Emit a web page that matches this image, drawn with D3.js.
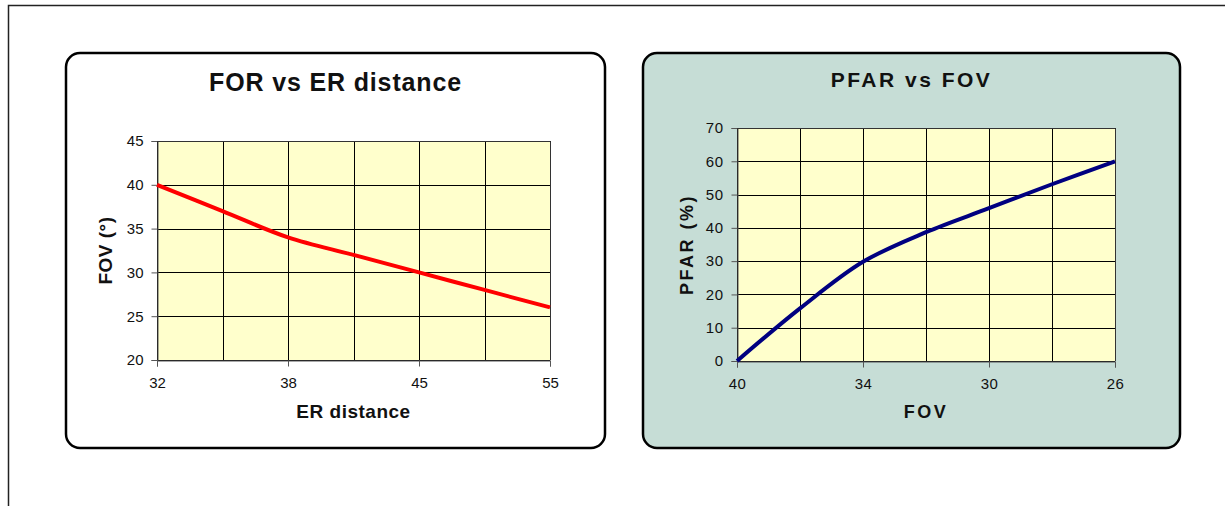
<!DOCTYPE html>
<html>
<head>
<meta charset="utf-8">
<script src="https://cdn.jsdelivr.net/npm/d3@7"></script>
<style>
  html, body { margin: 0; padding: 0; background: #fff; }
  svg { display: block; font-family: "Liberation Sans", Arial, sans-serif; }
</style>
</head>
<body>
<svg id="chart" width="1225" height="506"></svg>
<script>
// ---- Data ----
const erCategories = ["32", "35", "38", "41", "45", "50", "55"];
const fovValues = [40, 37, 34, 32, 30, 28, 26];
const fovYTicks = [20, 25, 30, 35, 40, 45];

const fovCategories = ["40", "37", "34", "32", "30", "28", "26"];
const pfarValues = [0, 15.8, 29.8, 38.7, 45.9, 53.1, 60];
const pfarYTicks = [0, 10, 20, 30, 40, 50, 60, 70];

const svg = d3.select("#chart");

// outer frame
svg.append("path")
  .attr("d", "M8.5,506 L8.5,5.5 L1225,5.5")
  .attr("fill", "none").attr("stroke", "#222").attr("stroke-width", 1.5);

function drawPanel(cfg) {
  const g = svg.append("g");
  g.append("rect")
    .attr("x", cfg.box[0]).attr("y", cfg.box[1])
    .attr("width", cfg.box[2]).attr("height", cfg.box[3])
    .attr("rx", 14).attr("ry", 14)
    .attr("fill", cfg.bg).attr("stroke", "#000").attr("stroke-width", 2.5);

  g.append("text")
    .attr("x", cfg.titleX).attr("y", cfg.titleY)
    .attr("text-anchor", "middle")
    .attr("font-size", cfg.titleSize).attr("font-weight", "bold")
    .attr("letter-spacing", cfg.titleSpacing)
    .attr("fill", "#111")
    .text(cfg.title);

  const x = d3.scalePoint().domain(cfg.cats).range([cfg.plot.left, cfg.plot.right]);
  const y = d3.scaleLinear().domain(cfg.yDomain).range([cfg.plot.bottom, cfg.plot.top]);

  // plot area
  g.append("rect")
    .attr("x", cfg.plot.left).attr("y", cfg.plot.top)
    .attr("width", cfg.plot.right - cfg.plot.left)
    .attr("height", cfg.plot.bottom - cfg.plot.top)
    .attr("fill", "#FFFFCC");

  // horizontal gridlines
  g.selectAll(".hg").data(cfg.yTicks).enter().append("line")
    .attr("x1", cfg.plot.left).attr("x2", cfg.plot.right)
    .attr("y1", d => Math.round(y(d)) + 0.5).attr("y2", d => Math.round(y(d)) + 0.5)
    .attr("stroke", "#000").attr("stroke-width", 1);
  // vertical gridlines
  g.selectAll(".vg").data(cfg.cats).enter().append("line")
    .attr("x1", d => Math.round(x(d)) + 0.5).attr("x2", d => Math.round(x(d)) + 0.5)
    .attr("y1", cfg.plot.top).attr("y2", cfg.plot.bottom)
    .attr("stroke", "#000").attr("stroke-width", 1);

  // y axis
  const yAxis = d3.axisLeft(y).tickValues(cfg.yTicks).tickSize(6).tickPadding(8);
  const ya = g.append("g").attr("transform", `translate(${Math.round(cfg.plot.left) + 0.5},0)`).call(yAxis);
  ya.select(".domain").attr("stroke", "#555");
  ya.selectAll(".tick line").attr("stroke", "#555");
  ya.selectAll(".tick text").attr("font-size", 15).attr("fill", "#111")
    .attr("font-family", "'Liberation Sans', Arial, sans-serif")
    .attr("letter-spacing", cfg.tickSpacing);

  // x axis
  const xAxis = d3.axisBottom(x)
    .tickValues(cfg.cats.filter((d, i) => i % 2 === 0))
    .tickSize(6).tickPadding(11);
  const xa = g.append("g").attr("transform", `translate(0,${Math.round(cfg.plot.bottom) + 0.5})`).call(xAxis);
  xa.select(".domain").attr("stroke", "#555");
  xa.selectAll(".tick line").attr("stroke", "#555");
  xa.selectAll(".tick text").attr("font-size", 15).attr("fill", "#111")
    .attr("font-family", "'Liberation Sans', Arial, sans-serif")
    .attr("letter-spacing", cfg.tickSpacing);

  // right/top border of plot
  g.append("path")
    .attr("d", `M${cfg.plot.left},${Math.round(cfg.plot.top) + 0.5} H${Math.round(cfg.plot.right) + 0.5} V${cfg.plot.bottom}`)
    .attr("fill", "none").attr("stroke", "#333").attr("stroke-width", 1);

  // line
  const line = d3.line()
    .x((d, i) => x(cfg.cats[i]))
    .y(d => y(d))
    .curve(d3.curveCatmullRom.alpha(0.5));
  g.append("path").datum(cfg.values)
    .attr("d", line)
    .attr("fill", "none").attr("stroke", cfg.color).attr("stroke-width", 4)
    .attr("stroke-linejoin", "round");

  // axis titles
  g.append("text")
    .attr("x", (cfg.plot.left + cfg.plot.right) / 2).attr("y", cfg.xTitleY)
    .attr("text-anchor", "middle").attr("font-size", cfg.axisTitleSize).attr("font-weight", "bold")
    .attr("letter-spacing", cfg.spacing).attr("fill", "#111")
    .text(cfg.xTitle);
  g.append("text")
    .attr("transform", `translate(${cfg.yTitleX},${(cfg.plot.top + cfg.plot.bottom) / 2}) rotate(-90)`)
    .attr("text-anchor", "middle").attr("font-size", cfg.axisTitleSize).attr("font-weight", "bold")
    .attr("letter-spacing", cfg.spacing).attr("fill", "#111")
    .text(cfg.yTitle);
}

drawPanel({
  box: [66, 53, 539, 395], bg: "#FFFFFF",
  title: "FOR vs ER distance", titleX: 335.5, titleY: 91, titleSize: 25, titleSpacing: 0.85, spacing: 0.5,
  plot: { left: 157, right: 550, top: 141, bottom: 360 },
  cats: erCategories, values: fovValues, yDomain: [20, 45], yTicks: fovYTicks,
  color: "#FF0000", tickSpacing: 0,
  xTitle: "ER distance", xTitleY: 418, yTitle: "FOV (°)", yTitleX: 112, axisTitleSize: 19
});

drawPanel({
  box: [643, 53, 537, 395], bg: "#C6DDD6",
  title: "PFAR vs FOV", titleX: 911.5, titleY: 87, titleSize: 21, titleSpacing: 2.5, spacing: 2.5,
  plot: { left: 737, right: 1115, top: 128, bottom: 361 },
  cats: fovCategories, values: pfarValues, yDomain: [0, 70], yTicks: pfarYTicks,
  color: "#000080", tickSpacing: 0.5,
  xTitle: "FOV", xTitleY: 418, yTitle: "PFAR (%)", yTitleX: 693, axisTitleSize: 18
});
</script>
</body>
</html>
